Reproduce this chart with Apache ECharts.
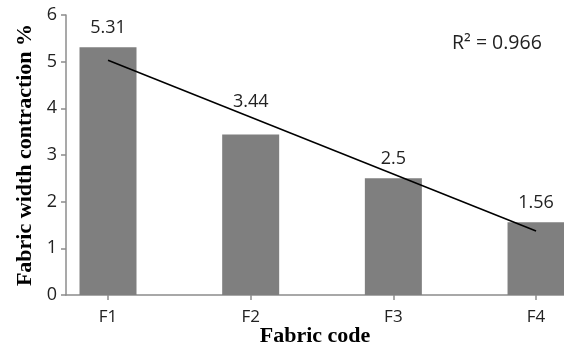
<!DOCTYPE html>
<html><head><meta charset="utf-8">
<script src="https://cdn.jsdelivr.net/npm/echarts@6/dist/echarts.min.js"></script>
<style>html,body{margin:0;padding:0;background:#fff}#c{width:564px;height:347px}</style>
</head><body><div id="c"></div>
<script>
var categories = ['F1', 'F2', 'F3', 'F4'];
var contraction = [5.31, 3.44, 2.5, 1.56];
var trendEnds = [5.03, 1.37];
var yTicks = [0, 1, 2, 3, 4, 5, 6];
var r2Text = 'R² = 0.966';

var chart = echarts.init(document.getElementById('c'), null, {renderer: 'canvas'});
var lab = '"Open Sans", "Noto Sans", sans-serif';
var serif = '"Liberation Serif", "DejaVu Serif", serif';
var catIdx = categories.map(function (c, i) { return i; });
chart.setOption({
  animation: false,
  grid: {left: 66, right: 0, top: 15, bottom: 52, containLabel: false, outerBoundsMode: 'none'},
  xAxis: {
    type: 'value', min: -0.2944, max: 3.196,
    splitLine: {show: false},
    axisLine: {show: true, onZero: false, lineStyle: {color: '#8c8c8c', width: 1.5}},
    axisTick: {show: true, customValues: catIdx, length: 5, lineStyle: {color: '#8c8c8c', width: 1.5}},
    axisLabel: {customValues: catIdx, formatter: function (v) { return categories[Math.round(v)]; },
      fontFamily: lab, fontSize: 17, color: '#222', margin: 14},
    name: 'Fabric code', nameLocation: 'middle', nameGap: 30, nameMoveOverlap: false,
    nameTextStyle: {fontFamily: serif, fontWeight: 'bold', fontSize: 22, color: '#000'}
  },
  yAxis: {
    type: 'value', min: yTicks[0], max: yTicks[yTicks.length - 1], interval: 1,
    splitLine: {show: false},
    axisLine: {show: true, onZero: false, lineStyle: {color: '#8c8c8c', width: 1.5}},
    axisTick: {show: true, inside: false, length: 5, lineStyle: {color: '#8c8c8c', width: 1.5}},
    axisLabel: {fontFamily: lab, fontSize: 18, color: '#222', margin: 9},
    name: 'Fabric width contraction %', nameLocation: 'middle', nameGap: 30, nameMoveOverlap: false,
    nameTextStyle: {fontFamily: serif, fontWeight: 'bold', fontSize: 22, color: '#000'}
  },
  series: [
    {
      type: 'bar', barWidth: 57,
      data: contraction.map(function (v, i) {
        var item = {value: [i, v]};
        if (i === 1) { item.label = {offset: [0, -14]}; }
        return item;
      }),
      itemStyle: {color: '#7f7f7f'},
      label: {show: true, position: 'top', distance: 10, fontFamily: lab, fontSize: 18, color: '#222',
        formatter: function (p) { return String(p.value[1]); }}
    },
    {
      type: 'line', symbol: 'none', z: 5,
      data: [[0, trendEnds[0]], [3, trendEnds[1]]],
      lineStyle: {color: '#000', width: 1.5}
    }
  ],
  graphic: [{
    type: 'text', left: 452, top: 33,
    style: {text: r2Text, fontFamily: lab, fontSize: 19.5, fill: '#222'}
  }]
});
</script></body></html>
